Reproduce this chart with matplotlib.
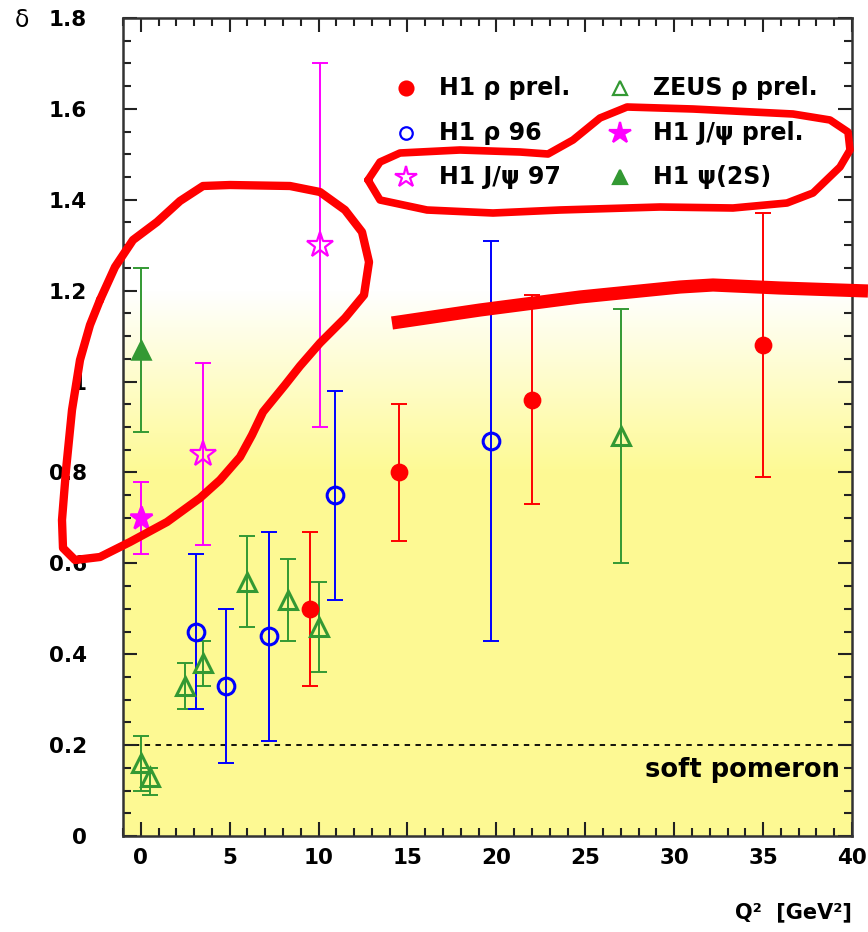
import numpy as np
import matplotlib
matplotlib.use('Agg')
import matplotlib.pyplot as plt

# delta vs Q^2 for vector meson photo/electroproduction
h1_rho_prel_q2 = [9.5, 14.5, 22.0, 35.0]
h1_rho_prel_d = [0.50, 0.80, 0.96, 1.08]
h1_rho_prel_lo = [0.33, 0.65, 0.73, 0.79]
h1_rho_prel_hi = [0.67, 0.95, 1.19, 1.37]

h1_rho96_q2 = [3.1, 4.8, 7.2, 10.9, 19.7]
h1_rho96_d = [0.45, 0.33, 0.44, 0.75, 0.87]
h1_rho96_lo = [0.28, 0.16, 0.21, 0.52, 0.43]
h1_rho96_hi = [0.62, 0.50, 0.67, 0.98, 1.31]

zeus_rho_q2 = [0.0, 0.5, 2.5, 3.5, 6.0, 8.3, 10.0, 27.0]
zeus_rho_d = [0.16, 0.13, 0.33, 0.38, 0.56, 0.52, 0.46, 0.88]
zeus_rho_lo = [0.10, 0.09, 0.28, 0.33, 0.46, 0.43, 0.36, 0.60]
zeus_rho_hi = [0.22, 0.15, 0.38, 0.43, 0.66, 0.61, 0.56, 1.16]

jpsi_prel_q2 = [0.0]
jpsi_prel_d = [0.70]
jpsi_prel_lo = [0.62]
jpsi_prel_hi = [0.78]

jpsi97_q2 = [3.5, 10.1]
jpsi97_d = [0.84, 1.30]
jpsi97_lo = [0.64, 0.90]
jpsi97_hi = [1.04, 1.70]

psi2s_q2 = [0.0]
psi2s_d = [1.07]
psi2s_lo = [0.89]
psi2s_hi = [1.25]

soft_pomeron = 0.2

RED = '#ff0000'
BLUE = '#0000ff'
GREEN = '#339933'
MAGENTA = '#ff00ff'

plt.rcParams['font.family'] = 'DejaVu Sans'
plt.rcParams['font.weight'] = 'bold'

fig = plt.figure(figsize=(8.68, 9.32), dpi=100)
ax = fig.add_axes([123 / 868, 1 - 836 / 932, 729 / 868, 818 / 932])
ax.set_xlim(-1, 40)
ax.set_ylim(0, 1.8)

# white -> yellow background gradient
yy = np.linspace(1.8, 0, 400)
t = np.clip((1.2 - yy) / 0.4, 0, 1)
yellow = np.array([0.995, 0.98, 0.58])
grad = (1 - t[:, None]) * np.ones(3) + t[:, None] * yellow
ax.imshow(grad[:, None, :], extent=[-1, 40, 0, 1.8], aspect='auto', zorder=0)

ax.axhline(soft_pomeron, color='black', ls=(0, (3, 3)), lw=1.3, zorder=1)
ax.text(39.3, 0.145, 'soft pomeron', ha='right', va='center', fontsize=18.5)


def draw(q2, d, lo, hi, color, marker, ms, filled, mew=1.8):
    d = np.array(d)
    err = [d - np.array(lo), np.array(hi) - d]
    ax.errorbar(q2, d, yerr=err, fmt='none', ecolor=color, elinewidth=1.4,
                capsize=6, capthick=1.4, zorder=2)
    ax.plot(q2, d, ls='none', marker=marker, ms=ms, mew=mew, mec=color,
            mfc=color if filled else 'none', zorder=3)


draw(zeus_rho_q2, zeus_rho_d, zeus_rho_lo, zeus_rho_hi, GREEN, '^', 13, False, 2.2)
draw(h1_rho96_q2, h1_rho96_d, h1_rho96_lo, h1_rho96_hi, BLUE, 'o', 12, False, 2.2)
draw(h1_rho_prel_q2, h1_rho_prel_d, h1_rho_prel_lo, h1_rho_prel_hi, RED, 'o', 11, True)
draw(jpsi_prel_q2, jpsi_prel_d, jpsi_prel_lo, jpsi_prel_hi, MAGENTA, '*', 17, True)
draw(jpsi97_q2, jpsi97_d, jpsi97_lo, jpsi97_hi, MAGENTA, '*', 19, False, 1.6)
draw(psi2s_q2, psi2s_d, psi2s_lo, psi2s_hi, GREEN, '^', 13, True)

# legend drawn by hand, two columns
legend = [
    ('H1 ρ prel.', RED, 'o', 10, True, 0.388, 0.9144),
    ('H1 ρ 96', BLUE, 'o', 9, False, 0.388, 0.8594),
    ('H1 J/ψ 97', MAGENTA, '*', 16, False, 0.388, 0.8056),
    ('ZEUS ρ prel.', GREEN, '^', 10, False, 0.682, 0.9144),
    ('H1 J/ψ prel.', MAGENTA, '*', 16, True, 0.682, 0.8594),
    ('H1 ψ(2S)', GREEN, '^', 10, True, 0.682, 0.8056),
]
for label, color, marker, ms, filled, lx, ly in legend:
    ax.plot([lx], [ly], transform=ax.transAxes, marker=marker, ms=ms, mew=1.6,
            mec=color, mfc=color if filled else 'none', clip_on=False, zorder=4)
    ax.text(lx + 0.045, ly, label, transform=ax.transAxes, ha='left',
            va='center', fontsize=17)

ax.set_xticks(np.arange(0, 41, 5))
ax.set_xticks(np.arange(-1, 41, 1), minor=True)
ax.set_yticks(np.arange(0, 1.81, 0.2))
ax.set_yticks(np.arange(0, 1.81, 0.05), minor=True)
ax.set_yticklabels(['0', '0.2', '0.4', '0.6', '0.8', '1', '1.2', '1.4', '1.6', '1.8'])
ax.tick_params(which='both', direction='in', top=True, right=True, width=1.5,
               color='#222222', labelsize=15.5)
ax.tick_params(which='major', length=10)
ax.tick_params(which='minor', length=5.5)
ax.tick_params(axis='y', pad=26)
ax.tick_params(axis='x', pad=9)
for s in ax.spines.values():
    s.set_linewidth(1.8)
    s.set_color('#333333')

fig.text(22 / 868, 1 - 20 / 932, 'δ', ha='center', va='center', fontsize=17,
         fontweight='normal')
fig.text(852 / 868, 1 - 912 / 932, 'Q²  [GeV²]', ha='right', va='center',
         fontsize=15)

# red hand-drawn marks on top of the figure
over = fig.add_axes([0, 0, 1, 1], zorder=10)
over.set_xlim(0, 868)
over.set_ylim(932, 0)
over.axis('off')
over.patch.set_alpha(0)

loop1 = [(100, 300), (115, 267), (133, 240), (157, 222), (180, 201), (203, 186),
         (230, 185), (290, 186), (320, 192), (345, 210), (362, 232), (369, 262),
         (364, 295), (345, 318), (320, 343), (300, 366), (285, 385), (263, 412),
         (252, 435), (240, 457), (220, 480), (200, 498), (167, 522), (130, 542),
         (100, 557), (75, 560), (63, 548), (62, 520), (66, 470), (72, 410),
         (80, 360), (90, 325), (100, 300)]
loop2 = [(368, 180), (380, 162), (400, 153), (460, 150), (520, 152), (548, 154),
         (573, 140), (600, 118), (627, 107), (693, 109), (793, 114), (830, 120),
         (848, 132), (850, 150), (840, 167), (813, 193), (787, 203), (733, 208),
         (660, 207), (560, 210), (493, 213), (427, 210), (380, 200), (368, 180)]
stroke = [(392, 323), (480, 310), (580, 297), (680, 287), (713, 285), (780, 288),
          (868, 291)]

for pts, lw in [(loop1, 6), (loop2, 5.5)]:
    px, py = zip(*pts)
    over.plot(px, py, color=RED, lw=lw, solid_joinstyle='round',
              solid_capstyle='round')
px, py = zip(*stroke)
over.plot(px, py, color=RED, lw=9.5, solid_capstyle='butt')

plt.savefig('out.png', dpi=100)
plt.close()
